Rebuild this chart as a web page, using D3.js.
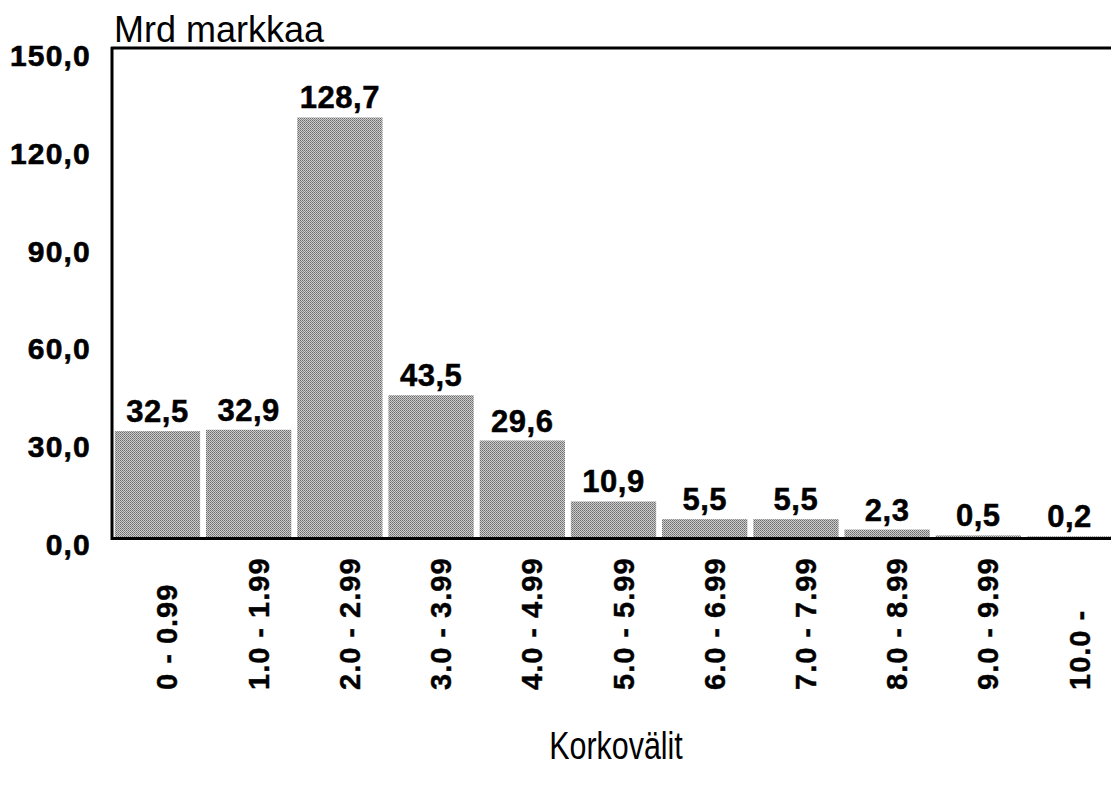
<!DOCTYPE html>
<meta charset="utf-8">
<style>
  body { margin: 0; background: #fff; }
  text { font-family: Arial, "Liberation Sans", sans-serif; fill: #000; }
  .tick-y { font-size: 30px; font-weight: bold; letter-spacing: 1.2px; stroke: #000; stroke-width: 0.6px; }
  .val { font-size: 31px; font-weight: bold; letter-spacing: 0.5px; stroke: #000; stroke-width: 0.5px; }
  .cat { font-size: 29px; font-weight: bold; letter-spacing: 1px; stroke: #000; stroke-width: 0.4px; }
</style>
<svg width="1111" height="789"></svg>
<script src="https://d3js.org/d3.v7.min.js"></script>
<script>

    var categories = ["0 - 0.99", "1.0 - 1.99", "2.0 - 2.99", "3.0 - 3.99", "4.0 - 4.99", "5.0 - 5.99",
                      "6.0 - 6.99", "7.0 - 7.99", "8.0 - 8.99", "9.0 - 9.99", "10.0 -"];
    var values = [32.5, 32.9, 128.7, 43.5, 29.6, 10.9, 5.5, 5.5, 2.3, 0.5, 0.2];
    var yTicks = [0, 30, 60, 90, 120, 150];

    var svg = d3.select("svg");

    var plotLeft = 113, plotTop = 48, plotBottom = 537, plotRight = 1114;

    var fmt = function(v) { return d3.format(".1f")(v).replace(".", ","); };

    // dithered grey fill like the printed original
    var defs = svg.append("defs");
    var pat = defs.append("pattern")
        .attr("id", "dots")
        .attr("width", 2).attr("height", 2)
        .attr("patternUnits", "userSpaceOnUse");
    pat.append("rect").attr("width", 2).attr("height", 2).attr("fill", "#cccccc");
    pat.append("rect").attr("width", 1).attr("height", 1).attr("fill", "#6c6c6c");
    pat.append("rect").attr("x", 1).attr("y", 1).attr("width", 1).attr("height", 1).attr("fill", "#868686");

    var x = d3.scaleBand()
        .domain(categories)
        .range([plotLeft, plotRight])
        .paddingInner(0.065)
        .paddingOuter(0.02);

    var y = d3.scaleLinear()
        .domain([0, 150])
        .range([plotBottom, plotTop]);

    // bars
    svg.append("g")
        .selectAll("rect")
        .data(values)
        .enter().append("rect")
        .attr("x", function(d, i) { return x(categories[i]); })
        .attr("y", function(d) { return y(d); })
        .attr("width", x.bandwidth())
        .attr("height", function(d) { return plotBottom - y(d); })
        .attr("fill", "url(#dots)");

    // value labels
    svg.append("g")
        .selectAll("text")
        .data(values)
        .enter().append("text")
        .attr("class", "val")
        .attr("x", function(d, i) { return x(categories[i]) + x.bandwidth() / 2; })
        .attr("y", function(d) { return y(d) - 9; })
        .attr("text-anchor", "middle")
        .text(fmt);

    // y tick labels
    svg.append("g")
        .selectAll("text")
        .data(yTicks)
        .enter().append("text")
        .attr("class", "tick-y")
        .attr("x", 91)
        .attr("y", function(d) { return y(d) + 18; })
        .attr("text-anchor", "end")
        .text(fmt);

    // frame lines
    svg.append("line")
        .attr("x1", plotLeft - 1).attr("x2", plotLeft - 1)
        .attr("y1", plotTop - 1).attr("y2", plotBottom + 3)
        .attr("stroke", "#000").attr("stroke-width", 3);
    svg.append("line")
        .attr("x1", plotLeft - 2).attr("x2", 1111)
        .attr("y1", plotTop).attr("y2", plotTop)
        .attr("stroke", "#000").attr("stroke-width", 3);
    svg.append("line")
        .attr("x1", plotLeft - 2).attr("x2", 1111)
        .attr("y1", plotBottom + 1.5).attr("y2", plotBottom + 1.5)
        .attr("stroke", "#000").attr("stroke-width", 3);

    // category labels, rotated, reading upwards from a common base
    svg.append("g")
        .selectAll("text")
        .data(categories)
        .enter().append("text")
        .attr("class", "cat")
        .attr("transform", function(d) {
            return "translate(" + (x(d) + x.bandwidth() / 2 + 20) + ",690) rotate(-90)";
        })
        .attr("text-anchor", "start")
        .text(function(d) { return d; });

    // axis titles
    svg.append("text")
        .attr("x", 114).attr("y", 42)
        .attr("font-size", 36)
        .text("Mrd markkaa");

    svg.append("text")
        .attr("transform", "translate(616,759) scale(0.78,1)")
        .attr("text-anchor", "middle")
        .attr("font-size", 39)
        .text("Korkovälit");

</script>
